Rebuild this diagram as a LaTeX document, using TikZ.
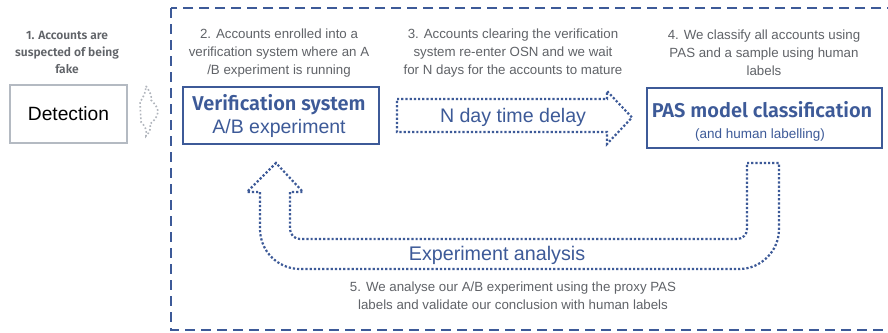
\documentclass[tikz,border=0pt]{standalone}
\usepackage{fontspec}
\setmainfont{Liberation Sans}
\newfontfamily\fira[BoldFont={Fira Sans SemiBold}]{Fira Sans}
\definecolor{fbblue}{HTML}{3D5A98}
\definecolor{txtgray}{HTML}{606368}
\definecolor{boxgray}{HTML}{B4BAC2}
\definecolor{arrgray}{HTML}{B0B5BC}
\begin{document}
\begin{tikzpicture}[x=1pt,y=-1pt,
  desc/.style={align=center,text=txtgray,font=\fontsize{13.3}{18}\selectfont,inner sep=0pt},
  boxstyle/.style={draw=fbblue,line width=2.4pt,inner sep=0pt},
  dots/.style={draw=fbblue,line width=2.2pt,dash pattern=on 2.2pt off 2pt},
  bluetxt/.style={text=fbblue,inner sep=0pt}]
\clip (0,0) rectangle (888,332);
\useasboundingbox (0,0) rectangle (888,332);
\fill[white] (0,0) rectangle (888,332);
% outer dashed frame
\draw[fbblue,line width=2.4pt,dash pattern=on 10pt off 6pt] (171,8) rectangle (900,330);

% step 1
\node[align=center,text=txtgray,inner sep=0pt,font=\fira\bfseries\fontsize{12}{17}\selectfont] (t1) at (67,52) {1. Accounts are\\suspected of being\\fake};
\node[draw=boxgray,line width=2.4pt,minimum width=117pt,minimum height=58pt,inner sep=0pt,font=\fontsize{19.2}{22}\selectfont] (det) at (68.5,114) {Detection};

% small gray arrow
\draw[arrgray,line width=1.6pt,dash pattern=on 1.6pt off 2.2pt] (146,86) .. controls (150,92) and (152,96) .. (151,100) .. controls (155,104) and (158,108) .. (158,112) .. controls (157,118) and (153,122) .. (150,124) .. controls (151,128) and (150,132) .. (146,136) .. controls (147,130) and (145,126) .. (141,122) -- (140,102) .. controls (143,98) and (146,92) .. cycle;

% step 2
\node[desc] (t2) at (279,53) {2. Accounts enrolled into a\\verification system where an A\\/B experiment is running};
\node[boxstyle,minimum width=196pt,minimum height=57pt] (ver) at (281,115.5) {};
\node[bluetxt,font=\fira\bfseries\fontsize{20}{24}\selectfont] (vert) at (279,105) {Verification system};
\node[bluetxt,font=\fontsize{19.5}{24}\selectfont] (verab) at (279,128) {A/B experiment};

% step 3
\node[desc] (t3) at (513,53) {3. Accounts clearing the verification\\system re-enter OSN and we wait\\for N days for the accounts to mature};
\draw[dots] (397,99) -- (607,99) -- (607,91) -- (632,117.5) -- (607,144) -- (607,132) -- (397,132) -- cycle;
\node[bluetxt,font=\fontsize{19.6}{24}\selectfont] (delay) at (513,117) {N day time delay};

% step 4
\node[desc] (t4) at (764,53) {4. We classify all accounts using\\PAS and a sample using human\\labels};
\node[boxstyle,minimum width=235pt,minimum height=60pt] (pas) at (764.5,118) {};
\node[bluetxt,font=\fira\bfseries\fontsize{20}{24}\selectfont] (past) at (762,110) {PAS model classification};
\node[bluetxt,font=\fontsize{13.5}{16}\selectfont] (pash) at (760,135) {(and human labelling)};

% step 5 loop arrow
\draw[dots] (747,163) -- (779,163) -- (779,229) arc[start angle=0,end angle=90,radius=40] -- (300,269) arc[start angle=90,end angle=180,radius=40] -- (260,192) -- (247,192) -- (276,163) -- (303,192) -- (290,192) -- (290,229) arc[start angle=180,end angle=90,radius=10] -- (737,239) arc[start angle=90,end angle=0,radius=10] -- cycle;
\node[bluetxt,font=\fontsize{19.7}{24}\selectfont] (ana) at (497,255) {Experiment analysis};
\node[desc] (t5) at (513,296) {5. We analyse our A/B experiment using the proxy PAS\\labels and validate our conclusion with human labels};
\end{tikzpicture}
\end{document}
